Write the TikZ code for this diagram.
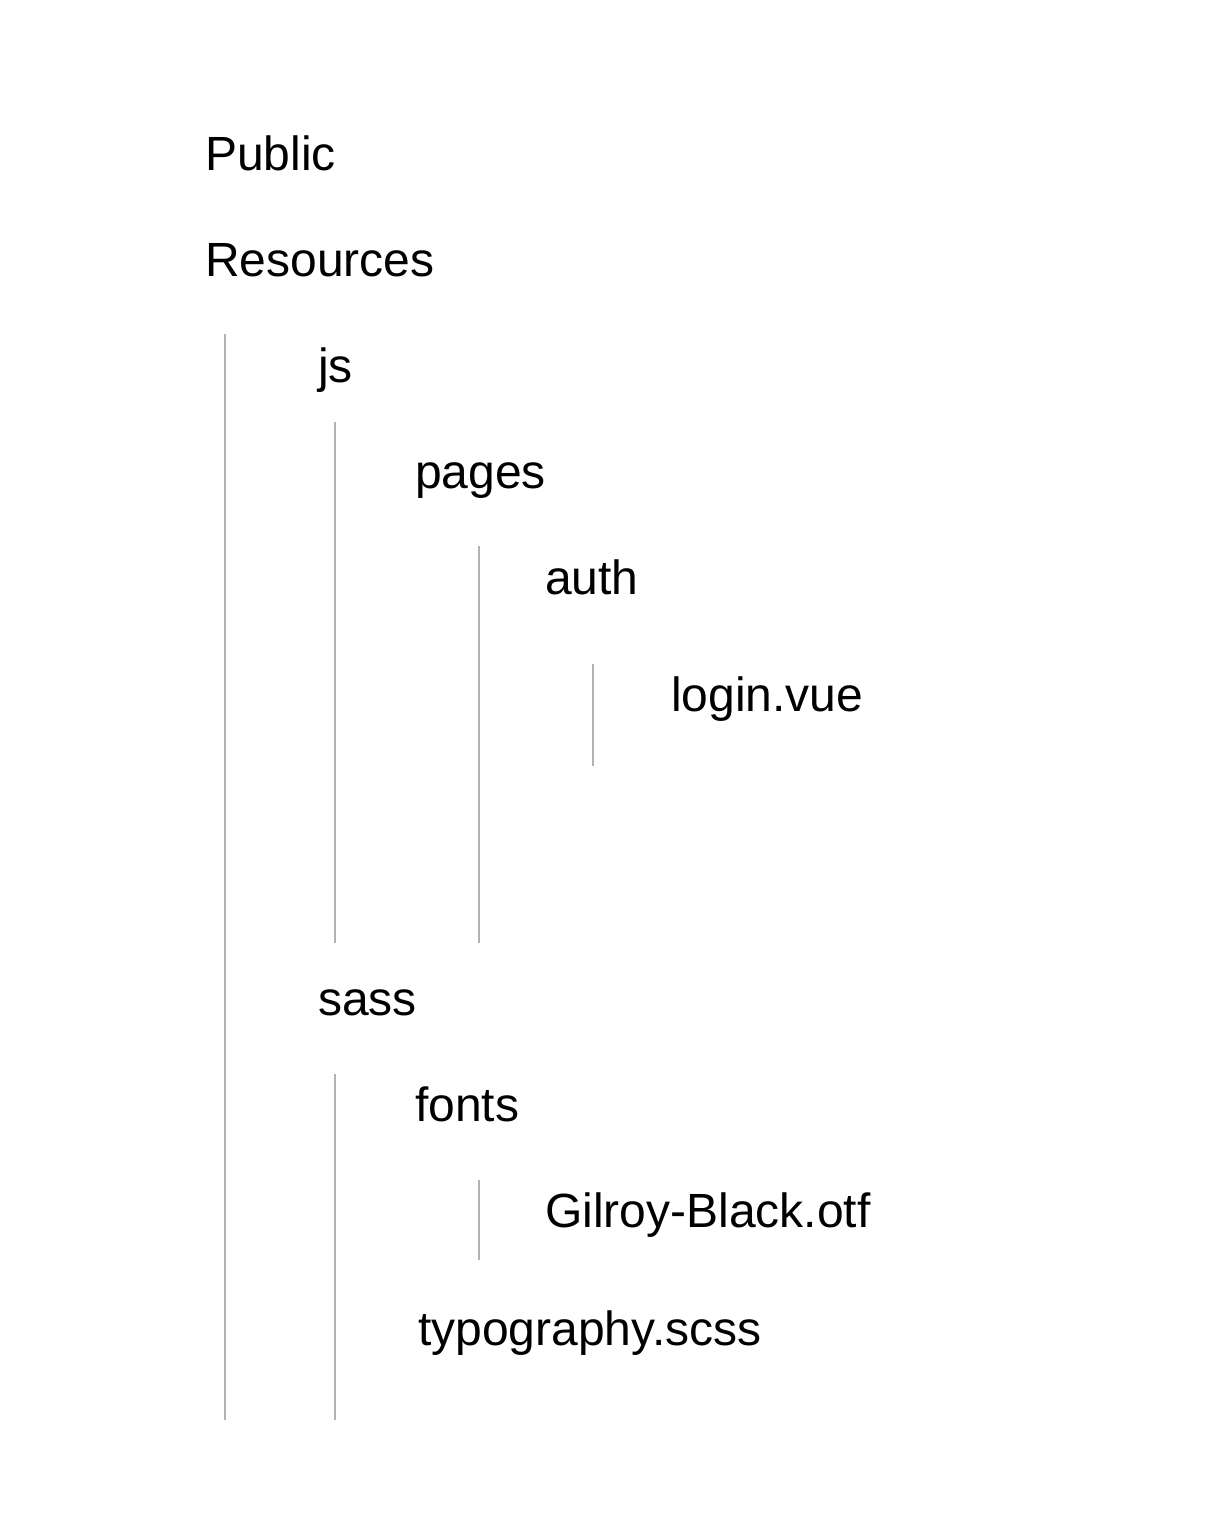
\documentclass[tikz,border=0pt]{standalone}
\usepackage{fontspec}
\setmainfont{Liberation Sans}
\begin{document}
\begin{tikzpicture}[x=1pt,y=-1pt,
  item/.style={anchor=base west,inner sep=0pt,font=\fontsize{48}{58}\selectfont},
  guide/.style={draw=black!30,line width=2pt}]
\useasboundingbox[fill=white] (0,0) rectangle (1220,1532);
\node[item] (public) at (205,170) {Public};
\node[item] (resources) at (205,276) {Resources};
\node[item] (js) at (318,382) {js};
\node[item] (pages) at (415,488) {pages};
\node[item] (auth) at (545,594) {auth};
\node[item] (login) at (671,711) {login.vue};
\node[item] (sass) at (318,1015) {sass};
\node[item] (fonts) at (415,1121) {fonts};
\node[item] (gilroy) at (545,1227) {Gilroy-Black.otf};
\node[item] (typo) at (418,1345) {typography.scss};
\coordinate (r1) at (225,334); \coordinate (r2) at (225,1420);
\coordinate (j1) at (335,422); \coordinate (j2) at (335,943);
\coordinate (p1) at (479,546); \coordinate (p2) at (479,943);
\coordinate (a1) at (593,664); \coordinate (a2) at (593,766);
\coordinate (s1) at (335,1074); \coordinate (s2) at (335,1420);
\coordinate (f1) at (479,1180); \coordinate (f2) at (479,1260);
\draw[guide] (r1) -- (r2);
\draw[guide] (j1) -- (j2);
\draw[guide] (p1) -- (p2);
\draw[guide] (a1) -- (a2);
\draw[guide] (s1) -- (s2);
\draw[guide] (f1) -- (f2);
\end{tikzpicture}
\end{document}
